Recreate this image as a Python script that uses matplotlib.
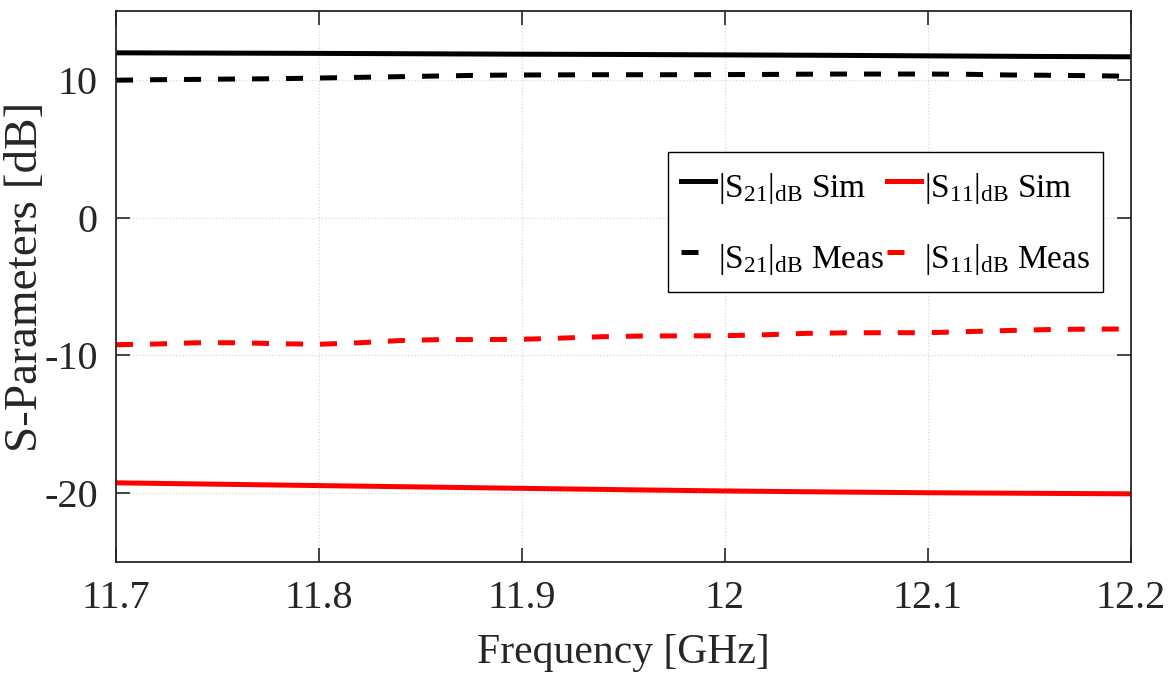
import numpy as np
import matplotlib
matplotlib.use('Agg')
import matplotlib.pyplot as plt

plt.rcParams['font.family'] = ['Liberation Serif', 'DejaVu Serif']
plt.rcParams['mathtext.fontset'] = 'custom'
plt.rcParams['mathtext.rm'] = 'Liberation Serif'
plt.rcParams['mathtext.it'] = 'Liberation Serif:italic'
plt.rcParams['axes.unicode_minus'] = False

# frequency grids [GHz]
freq_sim = [11.70, 11.75, 11.80, 11.85, 11.90, 11.95, 12.00, 12.05, 12.10, 12.15, 12.20]
freq_meas = [11.70, 11.72, 11.74, 11.76, 11.78, 11.80, 11.82, 11.84, 11.86, 11.88,
             11.90, 11.92, 11.94, 11.96, 11.98, 12.00, 12.02, 12.04, 12.06, 12.08,
             12.10, 12.12, 12.14, 12.16, 12.18, 12.20]

# S-parameters [dB]
s21_sim = [11.97, 11.95, 11.93, 11.90, 11.87, 11.85, 11.82, 11.79, 11.75, 11.71, 11.68]
s11_sim = [-19.25, -19.35, -19.45, -19.55, -19.65, -19.75, -19.84, -19.91, -19.97, -20.01, -20.05]
s21_meas = [9.98, 10.02, 10.04, 10.07, 10.09, 10.14, 10.19, 10.24, 10.29, 10.34,
            10.36, 10.37, 10.38, 10.38, 10.38, 10.39, 10.40, 10.42, 10.43, 10.43,
            10.43, 10.41, 10.36, 10.34, 10.31, 10.27]
s11_meas = [-9.22, -9.17, -9.08, -9.08, -9.15, -9.19, -9.08, -8.92, -8.85, -8.85,
            -8.83, -8.74, -8.64, -8.59, -8.58, -8.57, -8.50, -8.40, -8.36, -8.35,
            -8.35, -8.27, -8.19, -8.12, -8.09, -8.08]

xticks = [11.7, 11.8, 11.9, 12.0, 12.1, 12.2]
xticklabels = ['11.7', '11.8', '11.9', '12', '12.1', '12.2']
yticks = [-20, -10, 0, 10]

fig = plt.figure(figsize=(11.71, 6.93), dpi=100)
ax = fig.add_axes([0.0991, 0.189, 0.8666, 0.795])

lw = 3.6
dash = (0, (3.4, 3.4))
l1, = ax.plot(freq_sim, s21_sim, color='black', lw=lw,
              label=r'$|\mathrm{S}_{21}|_{\mathrm{dB}}$ Sim')
l2, = ax.plot(freq_meas, s21_meas, color='black', lw=lw, linestyle=dash,
              label=r'$|\mathrm{S}_{21}|_{\mathrm{dB}}$ Meas')
l3, = ax.plot(freq_sim, s11_sim, color='red', lw=lw,
              label=r'$|\mathrm{S}_{11}|_{\mathrm{dB}}$ Sim')
l4, = ax.plot(freq_meas, s11_meas, color='red', lw=lw, linestyle=dash,
              label=r'$|\mathrm{S}_{11}|_{\mathrm{dB}}$ Meas')

ax.set_xlim(11.7, 12.2)
ax.set_ylim(-25, 15)
ax.set_xticks(xticks)
ax.set_xticklabels(xticklabels)
ax.set_yticks(yticks)
ax.grid(True, linestyle=':', color='#b0b0b0', lw=0.9, alpha=0.5)
ax.tick_params(direction='in', length=10, width=1.2, top=True, right=True,
               labelsize=29, colors='#262626', pad=13)
for sp in ax.spines.values():
    sp.set_color('#262626')
    sp.set_linewidth(1.3)

ax.set_xlabel('Frequency [GHz]', fontsize=30, color='#262626', labelpad=12)
ax.set_ylabel('S-Parameters [dB]', fontsize=34, color='#262626')
ax.yaxis.set_label_coords(-0.068, 0.517)

leg = ax.legend(handles=[l1, l2, l3, l4], ncol=2, loc='upper right',
                bbox_to_anchor=(0.973, 0.745), fontsize=24, frameon=True,
                fancybox=False, framealpha=1, edgecolor='black',
                handlelength=1.0, handleheight=1.6, handletextpad=0.1,
                columnspacing=0.1, borderpad=0.4, labelspacing=0.83,
                borderaxespad=0)
leg.get_frame().set_linewidth(1.0)

fig.savefig('out.png', dpi=100)
